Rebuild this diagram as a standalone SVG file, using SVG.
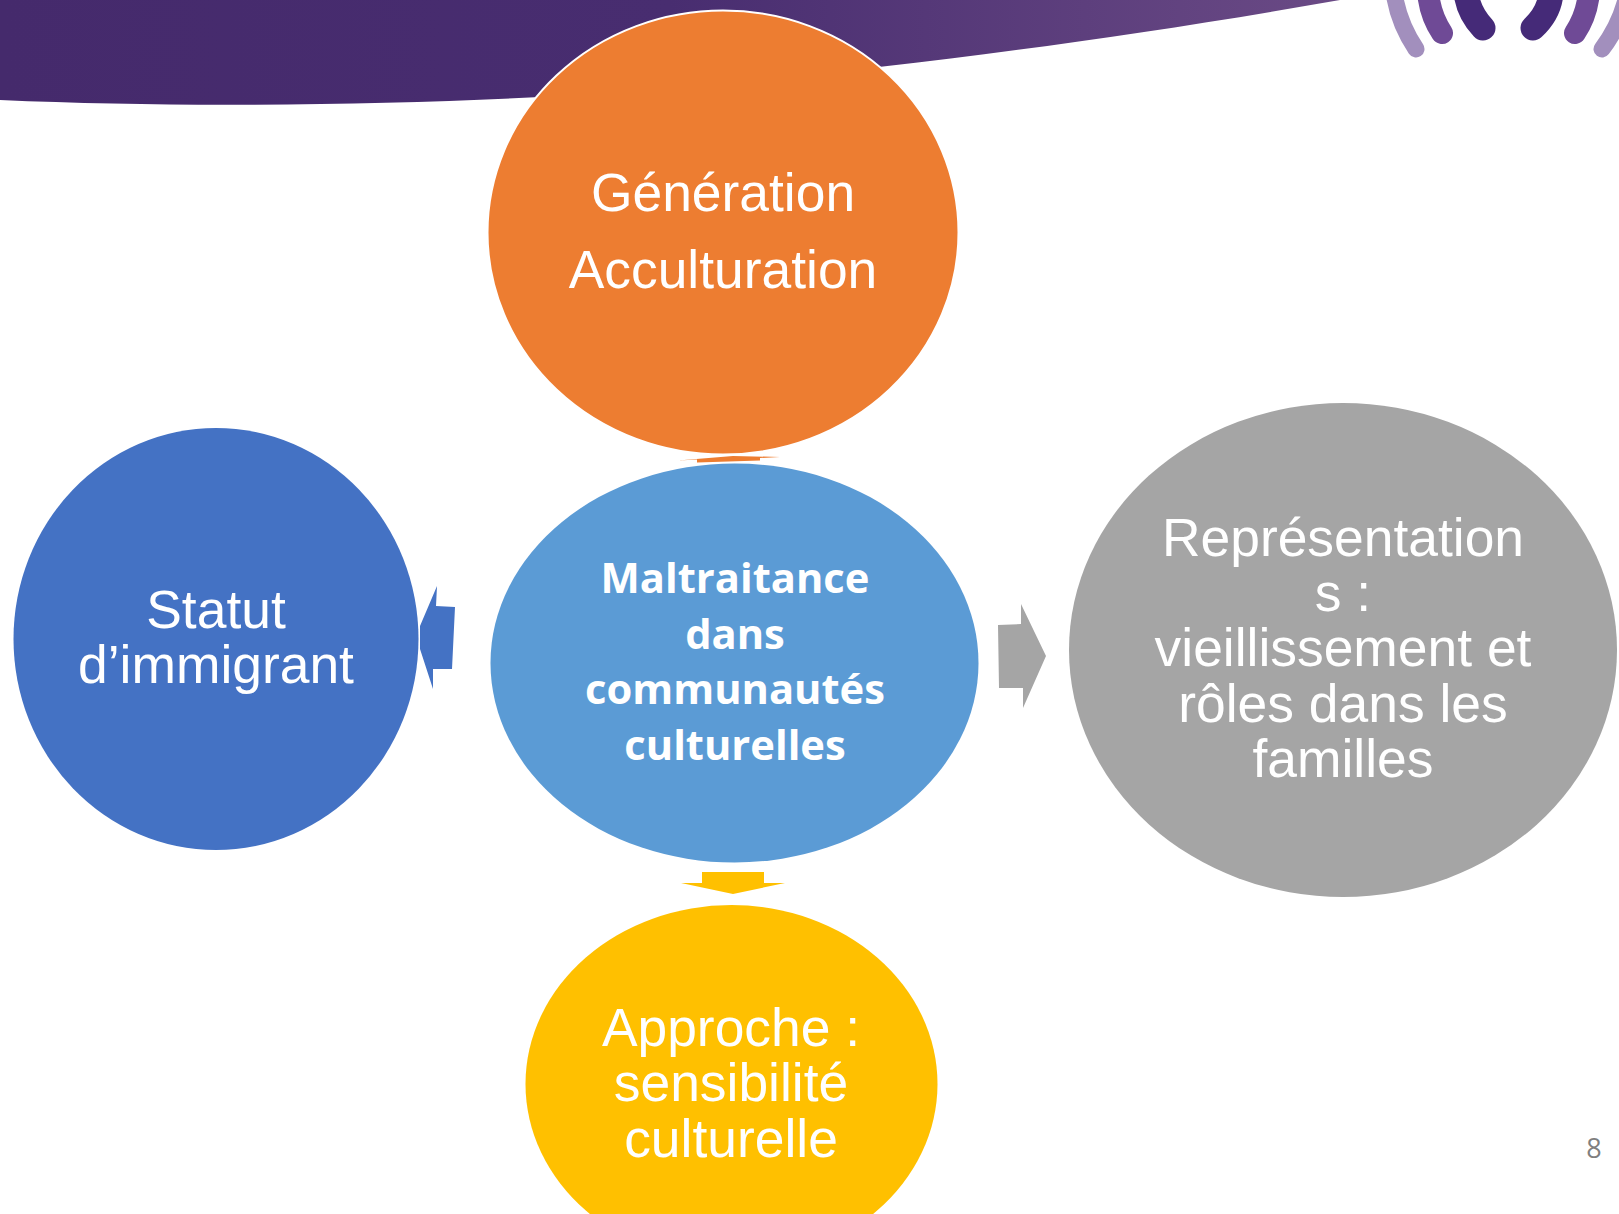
<svg xmlns="http://www.w3.org/2000/svg" width="1619" height="1214" viewBox="0 0 1619 1214">
<style>
.t{font-family:"Liberation Sans",Arial,sans-serif;font-size:53.4px;fill:#fff;text-anchor:middle}
.b{font-family:"Open Sans","Noto Sans",sans-serif;font-size:41.7px;font-weight:700;fill:#fff;text-anchor:middle}
.l{fill:none;stroke-linecap:round}
</style>
<defs><linearGradient id="band" x1="0" x2="1340" y1="0" y2="0" gradientUnits="userSpaceOnUse"><stop offset="0" stop-color="#452a6c"/><stop offset="0.5" stop-color="#482d70"/><stop offset="1" stop-color="#6a4a85"/></linearGradient></defs>
<rect width="1619" height="1214" fill="#fff"/>
<g id="header"><path d="M0,0V100C180,108 380,105 540,97C720,88 1030,55 1340,0Z" fill="url(#band)"/></g>
<g id="logo">
<path class="l" d="M1394,-8Q1398,22 1416,49" stroke="#a28fbd" stroke-width="17"/>
<path class="l" d="M1428,-8Q1430,15 1442,33" stroke="#6f4a96" stroke-width="22"/>
<path class="l" d="M1466,-8Q1468,12 1483,28" stroke="#452a78" stroke-width="25"/>
<path class="l" d="M1551,-8Q1550,12 1533,28" stroke="#452a78" stroke-width="25"/>
<path class="l" d="M1589,-8Q1587,15 1575,33" stroke="#6f4a96" stroke-width="22"/>
<path class="l" d="M1627,-4Q1620,25 1602,49" stroke="#a28fbd" stroke-width="17"/>
</g>
<g id="connectors">
<polygon points="678,460.5 733,456 780,457 760,458 760,460.5 697,462.5 697,459.5" fill="#ed7d31"/>
<polygon points="437,586 436,606 455,607 452,669 433,669 433,689 420,649 420,626" fill="#4472c4"/>
<polygon points="998,625 1021,624 1021,604 1046,656 1023,708 1023,688 999,688" fill="#a5a5a5"/>
<polygon points="702,872 764,872 764,883 785,883 733,894 681,883 702,883" fill="#ffc000"/>
</g>
<g id="node-generation"><ellipse cx="723" cy="232.5" rx="235.5" ry="222" fill="#ed7d31" stroke="#fff" stroke-width="2"/>
<text class="t" x="723" y="211">Génération</text><text class="t" x="723" y="288">Acculturation</text></g>
<g id="node-center"><ellipse cx="734.5" cy="663" rx="244" ry="199.5" fill="#5b9bd5"/>
<text class="b" x="735" y="593">Maltraitance</text><text class="b" x="735" y="649">dans</text><text class="b" x="735" y="704">communautés</text><text class="b" x="735" y="760">culturelles</text></g>
<g id="node-statut"><ellipse cx="216" cy="639" rx="202.5" ry="211" fill="#4472c4"/>
<text class="t" x="216" y="628">Statut</text><text class="t" x="216" y="683">d’immigrant</text></g>
<g id="node-representations"><ellipse cx="1343" cy="650" rx="274" ry="247" fill="#a5a5a5"/>
<text class="t" x="1343" y="556">Représentation</text><text class="t" x="1343" y="611">s :</text><text class="t" x="1343" y="666">vieillissement et</text><text class="t" x="1343" y="722">rôles dans les</text><text class="t" x="1343" y="777">familles</text></g>
<g id="node-approche"><ellipse cx="731.5" cy="1084" rx="206" ry="179" fill="#ffc000"/>
<text class="t" x="731" y="1046">Approche :</text><text class="t" x="731" y="1101">sensibilité</text><text class="t" x="731" y="1157">culturelle</text></g>
<text x="1594" y="1158" font-family="Open Sans,sans-serif" font-size="27" fill="#7f7f7f" text-anchor="middle">8</text>
</svg>
